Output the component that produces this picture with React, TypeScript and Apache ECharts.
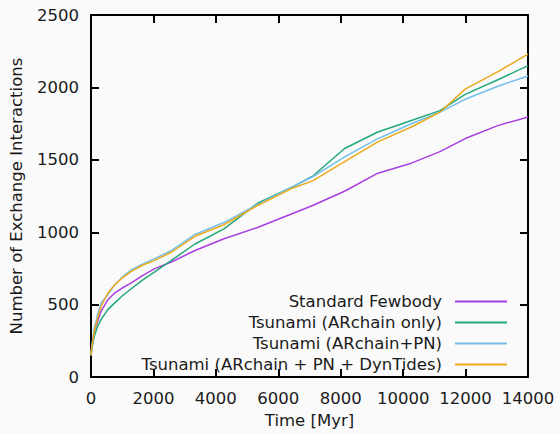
import React, { useEffect, useRef } from "react";
import * as echarts from "echarts";

const timeMyr = [0, 22, 108, 215, 322, 537, 753, 1000, 1290, 1650, 2040, 2576, 3330, 4260, 5335, 6400, 7100, 8124, 9190, 10262, 11180, 11988, 13054, 14000];
const standardFewbody = [150, 200, 318, 386, 454, 534, 579, 615, 650, 700, 749, 795, 874, 955, 1033, 1124, 1185, 1283, 1408, 1477, 1557, 1647, 1738, 1796];
const tsunamiARchain = [150, 190, 284, 352, 397, 466, 511, 560, 610, 670, 727, 806, 919, 1023, 1200, 1307, 1387, 1578, 1692, 1772, 1840, 1952, 2055, 2150];
const tsunamiPN = [150, 210, 340, 432, 511, 568, 636, 690, 740, 780, 818, 874, 985, 1067, 1192, 1307, 1383, 1521, 1646, 1749, 1829, 1918, 2010, 2079];
const tsunamiTides = [150, 200, 318, 409, 488, 579, 636, 685, 730, 772, 806, 862, 972, 1052, 1185, 1300, 1355, 1487, 1624, 1727, 1829, 1988, 2111, 2230];

const seriesNames = [
  "Standard Fewbody",
  "Tsunami (ARchain only)",
  "Tsunami (ARchain+PN)",
  "Tsunami (ARchain + PN + DynTides)",
];
const seriesValues = [standardFewbody, tsunamiARchain, tsunamiPN, tsunamiTides];
const colors = ["#a83ee0", "#22a87c", "#72bfec", "#eaaa1e"];

const FONT = "DejaVu Sans";
const TXT = "#1a1a1a";
const FS = 16.5;

export default function App() {
  const ref = useRef<HTMLDivElement>(null);
  useEffect(() => {
    if (!ref.current) return;
    const chart = echarts.init(ref.current, undefined, { renderer: "svg" });
    const axisLine = { show: true, onZero: false, lineStyle: { color: "#000", width: 2 } };
    const axisTick = { show: true, inside: true, length: 8, lineStyle: { color: "#000", width: 2 } };
    const legendTops = [293, 314, 335, 356];
    const fmt = (v: number) => String(v);
    chart.setOption({
      animation: false,
      backgroundColor: "#fafafa",
      textStyle: { fontFamily: FONT },
      grid: { left: 91, right: 32, top: 15, bottom: 52, containLabel: false },
      legend: seriesNames.map((n, i) => ({
        data: [n],
        right: 53,
        top: legendTops[i],
        padding: 0,
        align: "right",
        icon: "rect",
        itemWidth: 52,
        itemHeight: 2,
        selectedMode: false,
        textStyle: { fontFamily: FONT, fontSize: FS, color: TXT, padding: [0, 8, 0, 0] },
      })),
      xAxis: [
        {
          type: "value",
          min: 0,
          max: 14000,
          interval: 2000,
          position: "bottom",
          name: "Time [Myr]",
          nameLocation: "middle",
          nameGap: 32,
          nameTextStyle: { fontFamily: FONT, fontSize: FS, color: TXT },
          axisLine,
          axisTick,
          splitLine: { show: false },
          axisLabel: { margin: 13, fontFamily: FONT, fontSize: FS, color: TXT, formatter: fmt },
        },
        {
          type: "value",
          min: 0,
          max: 14000,
          interval: 2000,
          position: "top",
          axisLine,
          axisTick,
          splitLine: { show: false },
          axisLabel: { show: false },
        },
      ],
      yAxis: [
        {
          type: "value",
          min: 0,
          max: 2500,
          interval: 500,
          position: "left",
          name: "Number of Exchange Interactions",
          nameLocation: "middle",
          nameRotate: 90,
          nameGap: 66,
          nameTextStyle: { fontFamily: FONT, fontSize: FS, color: TXT },
          axisLine,
          axisTick,
          splitLine: { show: false },
          axisLabel: { margin: 12, fontFamily: FONT, fontSize: FS, color: TXT, formatter: fmt },
        },
        {
          type: "value",
          min: 0,
          max: 2500,
          interval: 500,
          position: "right",
          axisLine,
          axisTick,
          splitLine: { show: false },
          axisLabel: { show: false },
        },
      ],
      series: seriesNames.map((n, i) => ({
        name: n,
        type: "line",
        xAxisIndex: 0,
        yAxisIndex: 0,
        showSymbol: false,
        symbol: "none",
        color: colors[i],
        lineStyle: { color: colors[i], width: 1.5 },
        data: timeMyr.map((t, k) => [t, seriesValues[i][k]]),
      })),
    });
    return () => chart.dispose();
  }, []);
  return (
    <div
      ref={ref}
      style={{ position: "fixed", left: 0, top: 0, width: 560, height: 434 }}
    />
  );
}
